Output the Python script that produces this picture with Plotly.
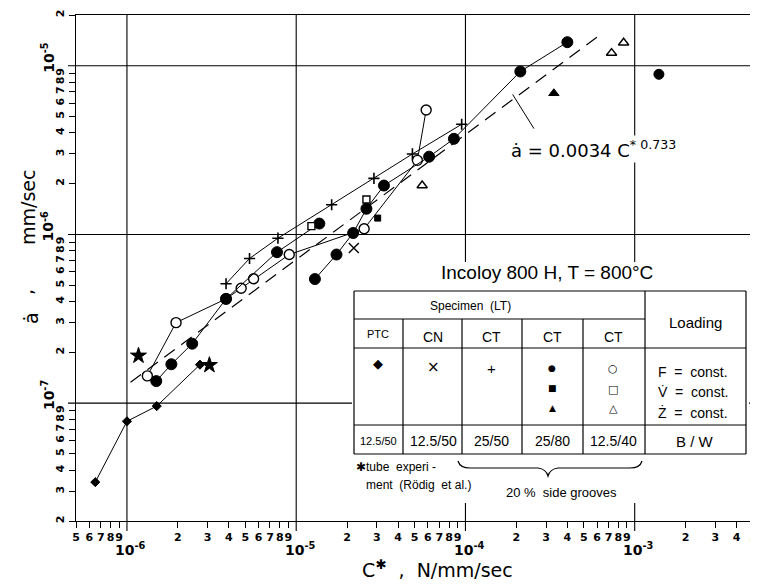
import plotly.graph_objects as go
import numpy as np

# ---------------- data ----------------
ptc_x = [6.5e-7, 1.0e-6, 1.5e-6, 2.7e-6]
ptc_y = [3.4e-8, 7.8e-8, 9.6e-8, 1.69e-7]
ptc_sym = ["diamond-dot", "diamond", "diamond", "diamond-dot"]

tube_x = [1.17e-6, 3.07e-6]
tube_y = [1.91e-7, 1.68e-7]

cn_x = [2.19e-5]
cn_y = [8.3e-7]

ct2550_x = [3.85e-6, 5.3e-6, 7.8e-6, 1.62e-5, 2.88e-5, 4.86e-5, 9.5e-5]
ct2550_y = [5.1e-7, 7.2e-7, 9.5e-7, 1.5e-6, 2.15e-6, 3.0e-6, 4.5e-6]

ct2580_fa_x = [1.49e-6, 1.83e-6, 2.43e-6, 3.85e-6, 7.7e-6, 1.37e-5]
ct2580_fa_y = [1.35e-7, 1.70e-7, 2.25e-7, 4.15e-7, 7.85e-7, 1.16e-6]
ct2580_fb_x = [1.29e-5, 1.73e-5, 2.17e-5, 2.6e-5, 3.3e-5, 6.1e-5, 8.55e-5, 2.11e-4, 4.0e-4]
ct2580_fb_y = [5.44e-7, 7.6e-7, 1.02e-6, 1.42e-6, 1.95e-6, 2.89e-6, 3.69e-6, 9.25e-6, 1.38e-5]
ct2580_v_x = [3.03e-5]
ct2580_v_y = [1.25e-6]
ct2580_z_x = [3.33e-4]
ct2580_z_y = [6.87e-6]

ct1240_f_x = [1.32e-6, 1.95e-6, 3.85e-6, 4.73e-6, 5.6e-6, 9.1e-6, 2.52e-5, 5.2e-5, 5.86e-5]
ct1240_f_y = [1.45e-7, 3.0e-7, 4.15e-7, 4.8e-7, 5.46e-7, 7.6e-7, 1.08e-6, 2.75e-6, 5.47e-6]
ct1240_v_x = [1.23e-5, 2.6e-5]
ct1240_v_y = [1.12e-6, 1.61e-6]
ct1240_z_x = [5.55e-5, 7.3e-4, 8.6e-4]
ct1240_z_y = [1.95e-6, 1.19e-5, 1.37e-5]

extra_x = [1.39e-3]
extra_y = [8.9e-6]

fit_x = [1.05e-6, 6.0e-4]
fit_y = [1.33e-7, 1.48e-5]
leader_x = [1.9e-4, 2.54e-4]
leader_y = [6.76e-6, 4.24e-6]

x_decades = [1e-6, 1e-5, 1e-4, 1e-3]
y_decades = [1e-7, 1e-6, 1e-5]
x_tick_vals = [5e-7, 6e-7, 7e-7, 8e-7, 9e-7,
               2e-6, 3e-6, 4e-6, 5e-6, 6e-6, 7e-6, 8e-6, 9e-6,
               2e-5, 3e-5, 4e-5, 5e-5, 6e-5, 7e-5, 8e-5, 9e-5,
               2e-4, 3e-4, 4e-4, 5e-4, 6e-4, 7e-4, 8e-4, 9e-4,
               2e-3, 3e-3, 4e-3, 5e-3]
x_tick_text = ["5", "6", "7", "8", "9",
               "2", "3", "4", "5", "6", "7", "8", "9",
               "2", "3", "4", "5", "6", "7", "8", "9",
               "2", "3", "4", "5", "6", "7", "8", "9",
               "2", "3", "4", "5"]
y_tick_vals = [2e-8, 3e-8, 4e-8, 5e-8, 6e-8, 7e-8, 8e-8, 9e-8,
               2e-7, 3e-7, 4e-7, 5e-7, 6e-7, 7e-7, 8e-7, 9e-7,
               2e-6, 3e-6, 4e-6, 5e-6, 6e-6, 7e-6, 8e-6, 9e-6, 2e-5]
y_tick_text = ["2", "3", "4", "5", "6", "7", "8", "9",
               "2", "3", "4", "5", "6", "7", "8", "9",
               "2", "3", "4", "5", "6", "7", "8", "9", "2"]

# ---------------- layout helpers ----------------
# the page body adds an 8 px margin, so the figure is 8 px smaller than the window
OFF = 8
W, H = 750, 576
L, R, T, B = 68, 5, 7, 63
PW, PH = W - L - R, H - T - B


def px(x):  # window pixel -> paper
    return (x - OFF - L) / PW


def py(y):
    return (H - B - (y - OFF)) / PH


INK = "black"
LINE = dict(color=INK, width=1)

fig = go.Figure()


def filled(sym, size):
    return dict(symbol=sym, size=size, color=INK, line=dict(color=INK, width=1))


def hollow(sym, size):
    return dict(symbol=sym, size=size, color="white", line=dict(color=INK, width=1.4))


fig.add_trace(go.Scatter(x=fit_x, y=fit_y, mode="lines",
                         line=dict(color=INK, width=1.2, dash="13px,8px")))
fig.add_trace(go.Scatter(x=leader_x, y=leader_y, mode="lines", line=LINE))
fig.add_trace(go.Scatter(x=ptc_x, y=ptc_y, mode="lines+markers", line=LINE,
                         marker=dict(symbol=ptc_sym, size=7, color=INK,
                                     line=dict(color=INK, width=1))))
fig.add_trace(go.Scatter(x=tube_x, y=tube_y, mode="markers", marker=filled("star", 12)))
fig.add_trace(go.Scatter(x=ct1240_f_x, y=ct1240_f_y, mode="lines+markers", line=LINE,
                         marker=hollow("circle", 10)))
fig.add_trace(go.Scatter(x=ct2550_x, y=ct2550_y, mode="lines+markers", line=LINE,
                         marker=dict(symbol="cross-thin-open", size=8, color=INK,
                                     line=dict(color=INK, width=1.6))))
fig.add_trace(go.Scatter(x=ct2580_fa_x, y=ct2580_fa_y, mode="lines+markers", line=LINE,
                         marker=filled("circle", 11)))
fig.add_trace(go.Scatter(x=ct2580_fb_x, y=ct2580_fb_y, mode="lines+markers", line=LINE,
                         marker=filled("circle", 11)))
fig.add_trace(go.Scatter(x=cn_x, y=cn_y, mode="markers",
                         marker=dict(symbol="x-thin-open", size=10, color=INK,
                                     line=dict(color=INK, width=1.4))))
fig.add_trace(go.Scatter(x=ct1240_v_x, y=ct1240_v_y, mode="markers", marker=hollow("square", 7)))
fig.add_trace(go.Scatter(x=ct2580_v_x, y=ct2580_v_y, mode="markers", marker=filled("square", 6)))
fig.add_trace(go.Scatter(x=ct1240_z_x, y=ct1240_z_y, mode="markers",
                         marker=hollow("triangle-up", 9)))
fig.add_trace(go.Scatter(x=ct2580_z_x, y=ct2580_z_y, mode="markers",
                         marker=filled("triangle-up", 9)))
fig.add_trace(go.Scatter(x=extra_x, y=extra_y, mode="markers", marker=filled("circle", 10)))

shapes = []
# decade grid lines (they run a little past the axes, as in the original)
for d in x_decades:
    shapes.append(dict(type="line", xref="x", yref="paper", x0=d, x1=d, y0=py(531), y1=1,
                       line=dict(color=INK, width=1.1), layer="below"))
for d in y_decades:
    shapes.append(dict(type="line", yref="y", xref="paper", y0=d, y1=d, x0=px(68), x1=1,
                       line=dict(color=INK, width=1.1), layer="below"))

# white area behind table & caption
shapes.append(dict(type="rect", xref="paper", yref="paper",
                   x0=px(352), x1=px(749), y0=py(503), y1=py(262),
                   fillcolor="white", line=dict(width=0), layer="above"))

# table frame
tl, tr, tt, tb = 354, 746, 291, 454
cols = [403, 462, 522, 583]
seg = [
    (tl, tt, tr, tt), (tl, tb, tr, tb), (tl, tt, tl, tb), (tr, tt, tr, tb),
    (645, tt, 645, tb),
    (tl, 319, 645, 319), (tl, 348, tr, 348), (tl, 425, tr, 425),
]
for c in cols:
    seg.append((c, 319, c, tb))
for (x0, y0, x1, y1) in seg:
    shapes.append(dict(type="line", xref="paper", yref="paper",
                       x0=px(x0), y0=py(y0), x1=px(x1), y1=py(y1),
                       line=dict(color=INK, width=1.2), layer="above"))

# brace under the three CT columns
bp = [("M", 458, 461), ("Q", 460, 468, 470, 468), ("L", 538, 468),
      ("Q", 546, 469, 548, 476), ("Q", 550, 469, 558, 468), ("L", 630, 468),
      ("Q", 640, 468, 642, 461)]
path = ""
for p in bp:
    cmd, coords = p[0], p[1:]
    pts = []
    for i in range(0, len(coords), 2):
        pts.append(f"{px(coords[i]):.5f},{py(coords[i + 1]):.5f}")
    path += cmd + " ".join(pts) + " "
shapes.append(dict(type="path", xref="paper", yref="paper", path=path.strip(),
                   line=dict(color=INK, width=1.2), layer="above"))

ann = []
TF = "Liberation Sans, Arial, sans-serif"
PF = "DejaVu Sans, sans-serif"
NB = "\u00a0"


def text(x, y, s, size, family=TF, anchor="center", angle=0, **kw):
    d = dict(xref="paper", yref="paper", x=px(x), y=py(y), text=s, showarrow=False,
             xanchor=anchor, yanchor="middle", textangle=angle,
             font=dict(family=family, size=size, color=INK))
    d.update(kw)
    ann.append(d)


# decade labels (annotation positions on log axes are given in log10 units)
for d in x_decades:
    ann.append(dict(xref="x", yref="paper", x=np.log10(d), y=py(549), xshift=4,
                    text=f"10<sup>{int(round(np.log10(d)))}</sup>", showarrow=False,
                    xanchor="center", yanchor="middle",
                    font=dict(family=PF, size=14, color=INK, weight="bold")))
for d in y_decades:
    ann.append(dict(xref="paper", yref="y", x=px(48), y=np.log10(d), yshift=8, textangle=-90,
                    text=f"10<sup>{int(round(np.log10(d)))}</sup>", showarrow=False,
                    xanchor="center", yanchor="middle",
                    font=dict(family=PF, size=14, color=INK, weight="bold")))

# axis titles
text(437, 569, "C<sup>✱</sup>" + NB * 2 + "," + NB * 2 + "N/mm/sec", 19, family=PF)
text(28, 208, "mm/sec", 19, family=PF, angle=-90)
text(26, 292, ",", 19, family=PF, angle=-90)
text(31, 318, "ȧ", 19, family=PF, angle=-90)

# formula and title
text(593, 149, "ȧ = 0.0034 C<sup>* 0.733</sup>", 18, family=PF, bgcolor="white")
text(547, 272, "Incoloy 800 H, T = 800°C", 19)

# table contents
text(470, 306, "Specimen  (LT)", 12)
text(695, 322, "Loading", 15)
text(378, 334, "PTC", 11)
for xc, s in [(433, "CN"), (491, "CT"), (552, "CT"), (613, "CT")]:
    text(xc, 337, s, 14)
text(378, 363, "◆", 13, family=PF)
text(433, 367, "×", 15, family=PF)
text(491, 368, "+", 15, family=TF)
text(552, 368, "●", 9, family=PF)
text(552, 388, "■", 9, family=PF)
text(552, 408, "▲", 9, family=PF)
text(613, 368, "○", 11, family=PF)
text(613, 389, "□", 11, family=PF)
text(613, 408, "△", 11, family=PF)
text(656, 372, "F  =  const.", 14, anchor="left")
text(656, 392, "V\u0307  =  const.", 14, anchor="left")
text(656, 412, "Ż  =  const.", 14, anchor="left")
text(378, 441, "12.5/50", 11)
text(433, 441, "12.5/50", 14)
text(491, 441, "25/50", 14)
text(552, 441, "25/80", 14)
text(613, 441, "12.5/40", 14)
text(695, 441, "B / W", 15)
text(354, 467, "✱tube  experi -", 12, anchor="left")
text(364, 485, "ment  (Rödig  et al.)", 12, anchor="left")
text(561, 492, "20 %  side grooves", 13)

fig.update_layout(
    width=W, height=H, margin=dict(l=L, r=R, t=T, b=B),
    paper_bgcolor="white", plot_bgcolor="white", showlegend=False,
    shapes=shapes, annotations=ann,
    xaxis=dict(type="log", range=[np.log10(5e-7), np.log10(5e-3)], automargin=False,
               tickvals=x_tick_vals, ticktext=x_tick_text, ticks="outside", tickangle=0,
               ticklen=6, tickcolor=INK, tickwidth=1.2, showgrid=False, zeroline=False,
               showline=True, linecolor=INK, linewidth=1.3, mirror=True,
               tickfont=dict(family=PF, size=11, color=INK, weight="bold")),
    yaxis=dict(type="log", range=[np.log10(2e-8), np.log10(2e-5)], automargin=False,
               tickvals=y_tick_vals, ticktext=y_tick_text, ticks="outside",
               ticklen=6, tickcolor=INK, tickwidth=1.2, showgrid=False, zeroline=False,
               showline=True, linecolor=INK, linewidth=1.3, mirror=True, tickangle=-90,
               tickfont=dict(family=PF, size=11, color=INK, weight="bold")),
)

fig.write_html("out.html")
